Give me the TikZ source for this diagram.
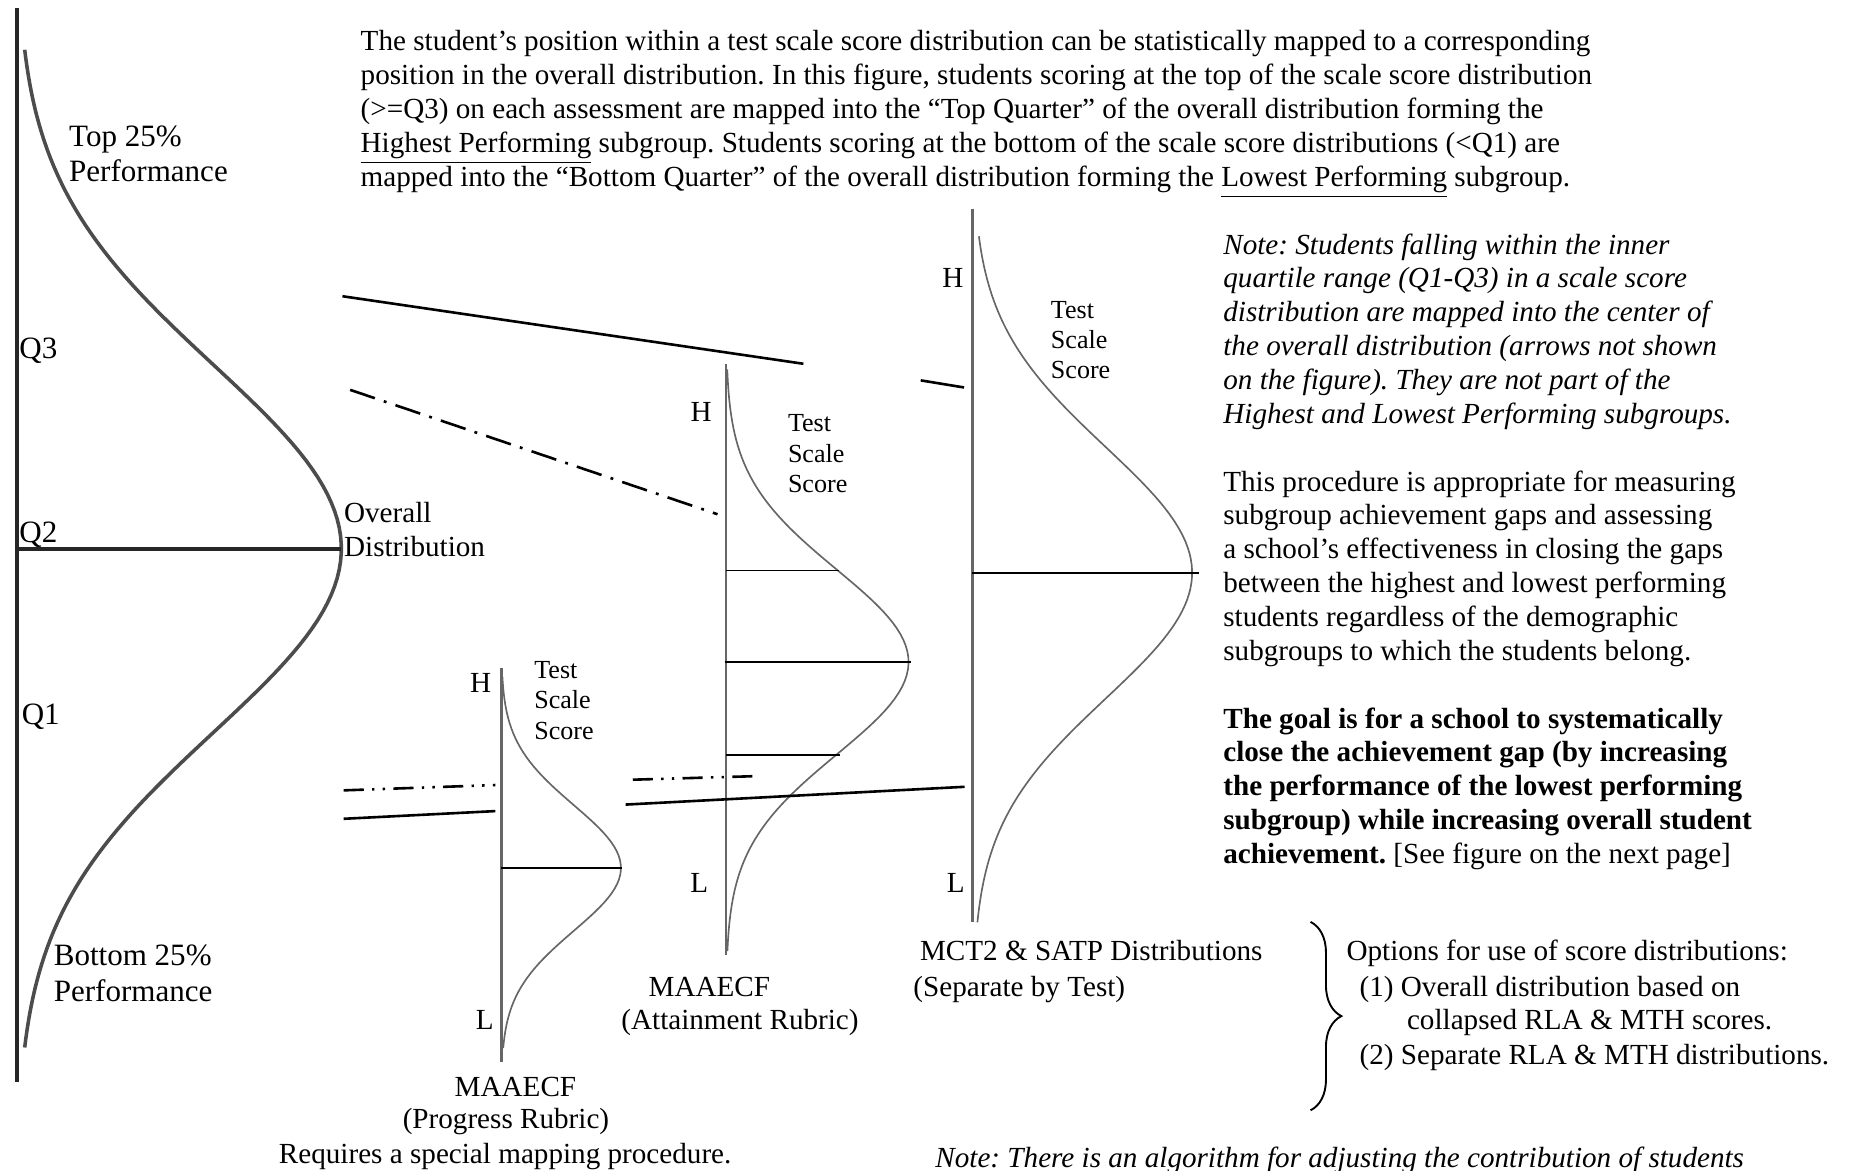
\documentclass[tikz,border=0pt]{standalone}
\usepackage{fontspec}
\setmainfont{Liberation Serif}
\usetikzlibrary{decorations.pathreplacing}
\frenchspacing

\begin{document}
\begin{tikzpicture}[x=0.5pt,y=-0.5pt,
  bodytxt/.style={inner sep=0pt,font=\fontsize{12.3}{14.3}\selectfont},
  paratxt/.style={bodytxt,anchor=north west,align=left},
  bigtxt/.style={inner sep=0pt,font=\fontsize{13.1}{14.5}\selectfont,anchor=base west},
  scoretxt/.style={inner sep=0pt,font=\fontsize{11}{12.8}\selectfont,anchor=north west,align=left},
  mainaxis/.style={line width=1.7pt,black!85},
  maincurve/.style={line width=1.5pt,black!70},
  testaxis/.style={line width=1.2pt,black!60},
  testcurve/.style={line width=0.7pt,black!60},
  cutline/.style={line width=0.6pt,black},
  mapline/.style={line width=1.1pt,black},
  mapdash/.style={line width=1.1pt,black,dash pattern=on 11pt off 4pt on 1.2pt off 4pt},
  mapdashdot/.style={line width=1.1pt,black,dash pattern=on 8.5pt off 3.5pt on 1pt off 3.5pt on 1pt off 3.5pt}
]
\useasboundingbox (0,0) rectangle (1568,988);

% Intro paragraph
\node[paratxt] (intro) at (304,25.5) {The student’s position within a test scale score distribution can be statistically mapped to a corresponding\\
position in the overall distribution. In this figure, students scoring at the top of the scale score distribution\\
(>=Q3) on each assessment are mapped into the “Top Quarter” of the overall distribution forming the\\
\underline{Highest Performing} subgroup. Students scoring at the bottom of the scale score distributions (<Q1) are\\
mapped into the “Bottom Quarter” of the overall distribution forming the \underline{Lowest Performing} subgroup.};

% Overall distribution
\draw[mainaxis] (14,7) -- (14,913);
\draw[maincurve] plot[domain=-421:421,samples=120] ({14+274*exp(-((\x/155)^2)/2)},{463+\x});
\draw[mainaxis] (14,463) -- (288,463);
\node[bigtxt] (top25) at (58,123.5) {Top 25\%};
\node[bigtxt] (topperf) at (58,153) {Performance};
\node[bigtxt] (q3) at (16,302.5) {Q3};
\node[bigtxt] (q2) at (16,457.5) {Q2};
\node[bigtxt] (q1) at (18,611) {Q1};
\node[bigtxt] (bot25) at (45,815) {Bottom 25\%};
\node[bigtxt] (botperf) at (45,845.5) {Performance};
\node[bodytxt,anchor=base west] (ovl) at (290,441) {Overall};
\node[bodytxt,anchor=base west] (ovd) at (290,470) {Distribution};

% MAAECF progress rubric
\draw[testaxis] (423,564) -- (423,896);
\draw[testcurve] plot[domain=-161:152,samples=80] ({423+101*exp(-((\x/53)^2)/2)},{732.5+\x});
\draw[cutline] (423,732.5) -- (525,732.5);
\node[bodytxt,anchor=base east] (proH) at (415,584.5) {H};
\node[bodytxt,anchor=base east] (proL) at (417,869) {L};
\node[scoretxt] (proS) at (450.5,557.7) {Test\\Scale\\Score};
\node[bodytxt,anchor=base] (proA) at (435,925) {MAAECF};
\node[bodytxt,anchor=base] (proB) at (427,952) {(Progress Rubric)};
\node[bodytxt,anchor=base west] (proC) at (235,982) {Requires a special mapping procedure.};

% MAAECF attainment rubric
\draw[testaxis] (612.7,307) -- (612.7,806);
\draw[testcurve] plot[domain=-247:244,samples=100] ({612.7+154*exp(-((\x/78)^2)/2)},{558.7+\x});
\draw[cutline] (612.7,481.5) -- (708,481.5);
\draw[cutline] (611.5,558.7) -- (769,558.7);
\draw[cutline] (612.7,637) -- (709,637);
\node[bodytxt,anchor=base east] (attH) at (601,356) {H};
\node[bodytxt,anchor=base east] (attL) at (598,753) {L};
\node[scoretxt] (attS) at (664.6,349.7) {Test\\Scale\\Score};
\node[bodytxt,anchor=base west] (attA) at (547,841) {MAAECF};
\node[bodytxt,anchor=base west] (attB) at (524,869) {(Attainment Rubric)};

% MCT2 and SATP
\draw[testaxis] (821,176) -- (821,778);
\draw[testcurve] plot[domain=-284:295,samples=120] ({821+185*exp(-((\x/106)^2)/2)},{483.4+\x});
\draw[cutline] (820,483.4) -- (1012,483.4);
\node[bodytxt,anchor=base east] (mctH) at (813.5,243) {H};
\node[bodytxt,anchor=base east] (mctL) at (814.5,753) {L};
\node[scoretxt] (mctS) at (886.5,253.7) {Test\\Scale\\Score};
\node[bodytxt,anchor=base west] (mctA) at (776,811) {MCT2 \& SATP Distributions};
\node[bodytxt,anchor=base west] (mctB) at (770.5,841) {(Separate by Test)};

% Mapping lines
\coordinate (hiA) at (289,250);
\coordinate (hiB) at (678,307);
\coordinate (hiC) at (777,321);
\coordinate (hiD) at (813.6,327);
\coordinate (q3A) at (295.5,329);
\coordinate (q3B) at (605.5,434);
\coordinate (q1A) at (290,667);
\coordinate (q1B) at (418,662.5);
\coordinate (loA) at (290,691);
\coordinate (loB) at (418,684.5);
\coordinate (q1C) at (534,658);
\coordinate (q1D) at (638,655);
\coordinate (loC) at (528,679);
\coordinate (loD) at (814,664);
\draw[mapline] (hiA) -- (hiB);
\draw[mapline] (hiC) -- (hiD);
\draw[mapdash] (q3A) -- (q3B);
\draw[mapdashdot] (q1A) -- (q1B);
\draw[mapline] (loA) -- (loB);
\draw[mapdashdot] (q1C) -- (q1D);
\draw[mapline] (loC) -- (loD);

% Right column notes
\node[paratxt] (notes) at (1032,196.7) {\itshape Note: Students falling within the inner\\
\itshape quartile range (Q1-Q3) in a scale score\\
\itshape distribution are mapped into the center of\\
\itshape the overall distribution (arrows not shown\\
\itshape on the figure). They are not part of the\\
\itshape Highest and Lowest Performing subgroups.\\[14.2pt]
This procedure is appropriate for measuring\\
subgroup achievement gaps and assessing\\
a school’s effectiveness in closing the gaps\\
between the highest and lowest performing\\
students regardless of the demographic\\
subgroups to which the students belong.\\[14.2pt]
\textbf{The goal is for a school to systematically}\\
\textbf{close the achievement gap (by increasing}\\
\textbf{the performance of the lowest performing}\\
\textbf{subgroup) while increasing overall student}\\
\textbf{achievement.} [See figure on the next page]};

% Options
\draw[line width=0.8pt,decorate,decoration={brace,amplitude=13pt}] (1106,778) -- (1106,937);
\node[bodytxt,anchor=base west] (opt0) at (1136,811) {Options for use of score distributions:};
\node[bodytxt,anchor=base west] (opt1) at (1147,841) {(1) Overall distribution based on};
\node[bodytxt,anchor=base west] (opt1b) at (1187,869) {collapsed RLA \& MTH scores.};
\node[bodytxt,anchor=base west] (opt2) at (1147,898) {(2) Separate RLA \& MTH distributions.};

\node[bodytxt,anchor=base west,font=\fontsize{12.3}{14.3}\selectfont\itshape] (algo) at (789,985) {Note: There is an algorithm for adjusting the contribution of students};
\end{tikzpicture}
\end{document}
